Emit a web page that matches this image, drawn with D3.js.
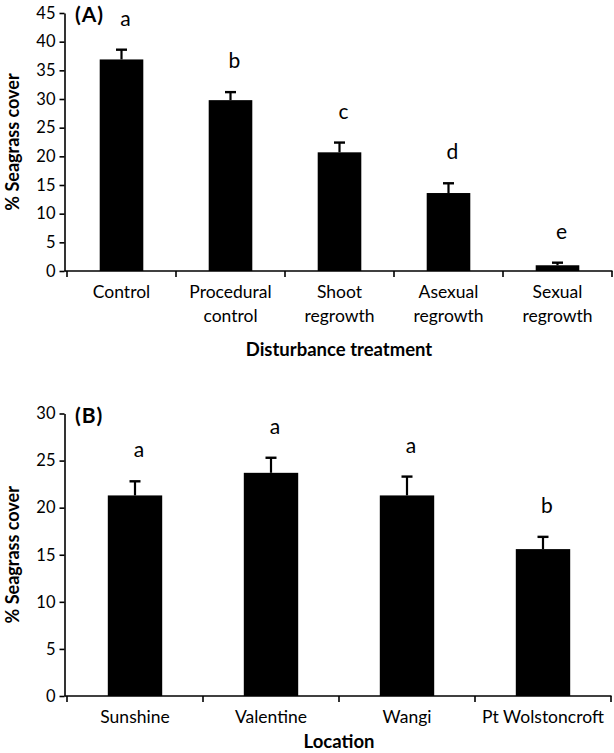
<!DOCTYPE html>
<html>
<head>
<meta charset="utf-8">
<script src="https://cdn.jsdelivr.net/npm/d3@7"></script>
<style>
  html, body { margin: 0; padding: 0; background: #fff; }
  svg { display: block; }
  text { font-family: Lato, "Open Sans", sans-serif; fill: #000; }
</style>
</head>
<body>
<svg id="chart" width="614" height="753"></svg>
<script>
// ---- Panel A data ----
const treatments = [["Control"], ["Procedural", "control"], ["Shoot", "regrowth"], ["Asexual", "regrowth"], ["Sexual", "regrowth"]];
const coverA = [36.9, 29.8, 20.7, 13.6, 1.0];
const errA = [1.7, 1.4, 1.7, 1.7, 0.45];
const lettersA = ["a", "b", "c", "d", "e"];
const ticksA = [0, 5, 10, 15, 20, 25, 30, 35, 40, 45];

// ---- Panel B data ----
const locations = [["Sunshine"], ["Valentine"], ["Wangi"], ["Pt Wolstoncroft"]];
const coverB = [21.3, 23.7, 21.3, 15.6];
const errB = [1.5, 1.6, 2.0, 1.3];
const lettersB = ["a", "a", "a", "b"];
const ticksB = [0, 5, 10, 15, 20, 25, 30];

const svg = d3.select("#chart");

function panel(cfg) {
  const g = svg.append("g");
  const idx = cfg.cats.map((d, i) => i);
  const x = d3.scaleBand().domain(idx).range([cfg.x0, cfg.x1]).paddingInner(0.6).paddingOuter(0.3);
  const y = d3.scaleLinear().domain([0, cfg.max]).range([cfg.yBottom, cfg.yTop]);

  // bars
  g.selectAll("rect.bar").data(cfg.values).join("rect")
    .attr("x", (d, i) => x(i)).attr("width", x.bandwidth())
    .attr("y", d => y(d)).attr("height", d => y(0) - y(d))
    .attr("fill", "#000");

  // error bars
  g.selectAll("line.err").data(cfg.values).join("line")
    .attr("x1", (d, i) => x(i) + x.bandwidth() / 2).attr("x2", (d, i) => x(i) + x.bandwidth() / 2)
    .attr("y1", d => y(d)).attr("y2", (d, i) => y(d + cfg.errs[i]))
    .attr("stroke", "#000").attr("stroke-width", 2.2);
  g.selectAll("line.cap").data(cfg.values).join("line")
    .attr("x1", (d, i) => x(i) + x.bandwidth() / 2 - 5.5).attr("x2", (d, i) => x(i) + x.bandwidth() / 2 + 5.5)
    .attr("y1", (d, i) => y(d + cfg.errs[i])).attr("y2", (d, i) => y(d + cfg.errs[i]))
    .attr("stroke", "#000").attr("stroke-width", 2.4);

  // significance letters
  g.selectAll("text.let").data(cfg.letters).join("text")
    .attr("x", (d, i) => x(i) + x.bandwidth() / 2 + 4)
    .attr("y", (d, i) => y(cfg.values[i] + cfg.errs[i]) - 24)
    .attr("text-anchor", "middle").style("font-size", "21px")
    .text(d => d);

  // y axis
  const yAxis = d3.axisLeft(y).tickValues(cfg.ticks).tickSize(5).tickPadding(4).tickSizeOuter(0);
  const ya = g.append("g").attr("transform", `translate(${cfg.axisX},0)`).call(yAxis);
  ya.select(".domain").attr("stroke-width", 1.6);
  ya.selectAll(".tick line").attr("stroke-width", 1.6);
  ya.selectAll(".tick text").style("font-size", "16.5px").style("font-family", "Lato, sans-serif");

  // x axis line and boundary ticks
  g.append("line").attr("x1", cfg.axisX).attr("x2", cfg.x1 + 0.5)
    .attr("y1", y(0)).attr("y2", y(0)).attr("stroke", "#000").attr("stroke-width", 1.6);
  const bounds = d3.range(cfg.cats.length + 1).map(i => cfg.x0 + i * x.step());
  g.selectAll("line.bt").data(bounds).join("line")
    .attr("x1", d => d).attr("x2", d => d)
    .attr("y1", y(0)).attr("y2", y(0) + 6)
    .attr("stroke", "#000").attr("stroke-width", 1.6);

  // category labels
  const labs = g.selectAll("text.cat").data(cfg.cats).join("text")
    .attr("text-anchor", "middle").style("font-size", "17.5px");
  labs.each(function(d, i) {
    const t = d3.select(this);
    d.forEach((line, k) => {
      t.append("tspan").attr("x", x(i) + x.bandwidth() / 2)
        .attr("y", y(0) + 27 + k * 24).text(line);
    });
  });

  // axis titles
  g.append("text").attr("x", cfg.titleX).attr("y", cfg.titleY)
    .attr("text-anchor", "middle").style("font-size", "18.5px").style("font-weight", "bold")
    .text(cfg.xTitle);
  g.append("text")
    .attr("transform", `translate(19,${(cfg.yTop + cfg.yBottom) / 2}) rotate(-90)`)
    .attr("text-anchor", "middle").style("font-size", "18px").style("font-weight", "bold")
    .text("% Seagrass cover");

  // panel label
  g.append("text").attr("x", 75).attr("y", cfg.yTop + 9)
    .style("font-size", "21px").style("font-weight", "bold").style("letter-spacing", "1px")
    .text(cfg.label);
}

panel({
  cats: treatments, values: coverA, errs: errA, letters: lettersA, ticks: ticksA,
  max: 45, x0: 67, x1: 612, yTop: 13, yBottom: 271, axisX: 64.5,
  xTitle: "Disturbance treatment", titleX: 339, titleY: 356, label: "(A)"
});

panel({
  cats: locations, values: coverB, errs: errB, letters: lettersB, ticks: ticksB,
  max: 30, x0: 67, x1: 611, yTop: 413.5, yBottom: 696, axisX: 64.5,
  xTitle: "Location", titleX: 339, titleY: 748, label: "(B)"
});
</script>
</body>
</html>
